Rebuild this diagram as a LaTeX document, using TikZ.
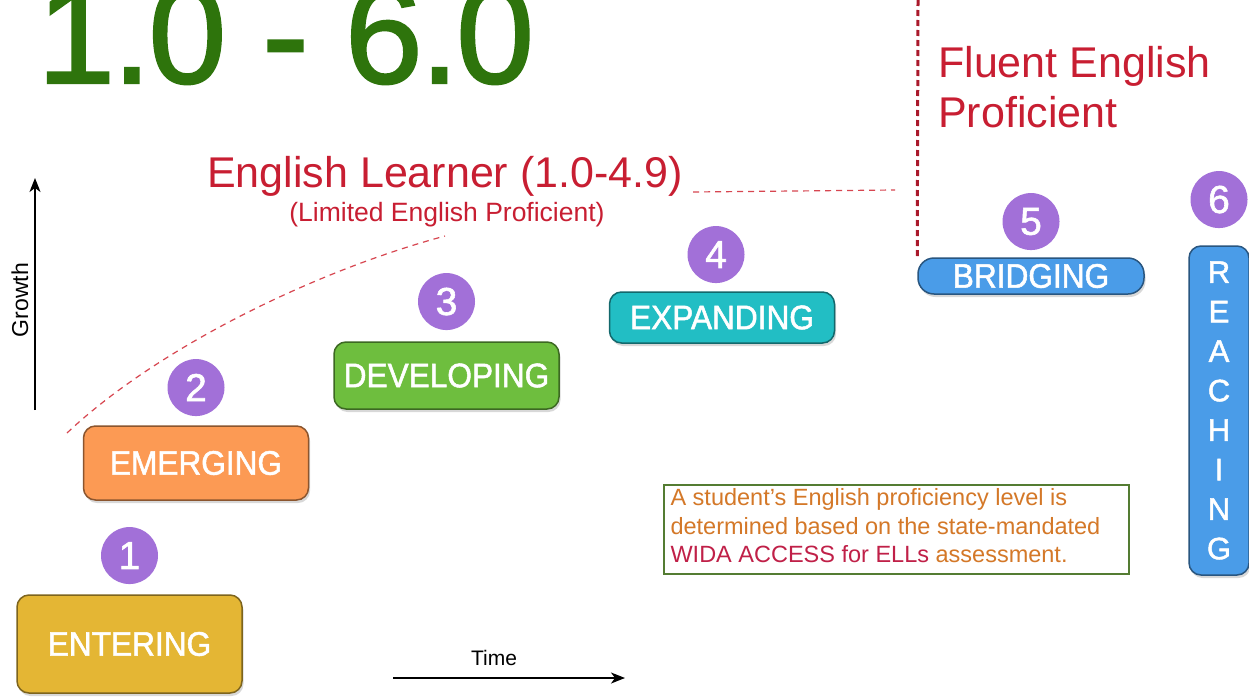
\documentclass[tikz,border=0pt]{standalone}
\usepackage{fontspec}
\setmainfont{Liberation Sans}
\newfontfamily\titlefont[LetterSpace=-2, FakeBold=1.5]{Liberation Sans}
\newfontfamily\stagefont[FakeStretch=0.93, FakeBold=1.5]{Liberation Sans}
\newfontfamily\numfont[FakeBold=1.5]{Liberation Sans}
\usetikzlibrary{positioning, arrows.meta, shadows}
\definecolor{titlegreen}{RGB}{46,116,12}
\definecolor{elred}{RGB}{200,30,50}
\definecolor{dashred}{RGB}{215,70,80}
\definecolor{enteringfill}{RGB}{228,182,52}
\definecolor{emergingfill}{RGB}{252,154,84}
\definecolor{developingfill}{RGB}{110,190,62}
\definecolor{expandingfill}{RGB}{34,190,196}
\definecolor{bridgingfill}{RGB}{74,156,232}
\definecolor{levelpurple}{RGB}{162,112,216}
\definecolor{noteorange}{RGB}{212,120,40}
\definecolor{notered}{RGB}{192,32,72}
\definecolor{notegreen}{RGB}{84,124,50}
\tikzset{
  >={Stealth[length=14pt, width=11pt, inset=4pt]},
  stage/.style={rounded corners=12pt, draw=#1!55!black, fill=#1, line width=1.5pt,
    inner sep=0pt, minimum width=225pt, text=white,
    font=\stagefont\fontsize{34}{36}\selectfont,
    drop shadow={shadow xshift=1.5pt, shadow yshift=-3pt, opacity=.3}},
  num/.style={circle, fill=levelpurple, minimum size=57pt, inner sep=0pt,
    text=white, font=\numfont\fontsize{39}{40}\selectfont},
  arrowline/.style={->, line width=1.5pt},
  elline/.style={dashred, line width=1.2pt, dash pattern=on 6pt off 5pt},
  fepline/.style={elred!85!black, line width=3pt, dash pattern=on 6pt off 4pt},
}

\begin{document}
\begin{tikzpicture}[x=1pt, y=-1pt]
        \fill[white] (0,0) rectangle (1249,696);
        \useasboundingbox (0,0) rectangle (1249,696);

        % headings
        \node[anchor=base west, inner sep=0pt, text=titlegreen,
              font=\titlefont\fontsize{140}{150}\selectfont] (range) at (37,83) {1.0 - 6.0};
        \node[anchor=base west, inner sep=0pt, text=elred,
              font=\fontsize{43}{45}\selectfont] (el) at (207,187) {English Learner (1.0-4.9)};
        \node[anchor=base, inner sep=0pt, text=elred,
              font=\fontsize{26.5}{28}\selectfont] (lep) at (447,221) {(Limited English Proficient)};
        \node[anchor=north west, inner sep=0pt, align=left, text=elred,
              font=\fontsize{43}{50}\selectfont] (fep) at (938,46) {Fluent English\\Proficient};

        % stages
        \node[stage=enteringfill, minimum height=98pt] (entering) at (129.5,644) {ENTERING};
        \node[stage=emergingfill, minimum height=74pt] (emerging) at (196,463) {EMERGING};
        \node[stage=developingfill, minimum height=67pt] (developing) at (446.5,375.5) {DEVELOPING};
        \node[stage=expandingfill, minimum height=51pt] (expanding) at (722,317.5) {EXPANDING};
        \node[stage=bridgingfill, rounded corners=16pt, minimum height=36pt, minimum width=226pt] (bridging) at (1031,276) {BRIDGING};
        \node[stage=bridgingfill, minimum width=60pt, minimum height=329pt, align=center,
              font=\numfont\fontsize{31}{39.5}\selectfont] (reaching) at (1219,410.5) {R\\E\\A\\C\\H\\I\\N\\G};

        % numbers
        \node[num, above=10pt of entering] (n1) {1};
        \node[num, above=9pt of emerging] (n2) {2};
        \node[num, above=11pt of developing] (n3) {3};
        \node[num, above=8pt of expanding, xshift=-6pt] (n4) {4};
        \node[num, above=7pt of bridging] (n5) {5};
        \node[num, above=17pt of reaching] (n6) {6};

        % note
        \node[draw=notegreen, line width=1.3pt, minimum width=465pt, minimum height=89pt,
              inner sep=0pt] (note) at (896.5,529.5) {};
        \node[anchor=north west, inner sep=0pt, align=left, text=noteorange,
              font=\fontsize{23.5}{28.5}\selectfont] (notetext)
              at ([xshift=7pt, yshift=-4pt]note.north west)
              {A student’s English proficiency level is\\determined based on the state-mandated\\\textcolor{notered}{WIDA ACCESS for ELLs} assessment.};

        % axes
        \coordinate (growthA) at (35,410);
        \coordinate (growthB) at (35,178);
        \draw[arrowline] (growthA) -- (growthB);
        \node[rotate=90, anchor=base, inner sep=0pt, font=\fontsize{23}{24}\selectfont] (growth) at (28,300) {Growth};
        \coordinate (timeA) at (393,678);
        \coordinate (timeB) at (625,678);
        \draw[arrowline] (timeA) -- (timeB);
        \node[anchor=base, inner sep=0pt, font=\fontsize{21}{22}\selectfont] (time) at (494,665) {Time};

        % dividers
        \coordinate (fepTop) at (918,0);
        \draw[fepline] (fepTop) -- (bridging.north west);
        \coordinate (elA) at (693,192);
        \coordinate (elB) at (895,190);
        \draw[elline] (elA) -- (elB);
        \coordinate (curveA) at (67,433);
        \coordinate (curveB) at (445,236);
        \draw[elline] (curveA) .. controls (157,348) and (315,271) .. (curveB);

      \end{tikzpicture}
\end{document}
